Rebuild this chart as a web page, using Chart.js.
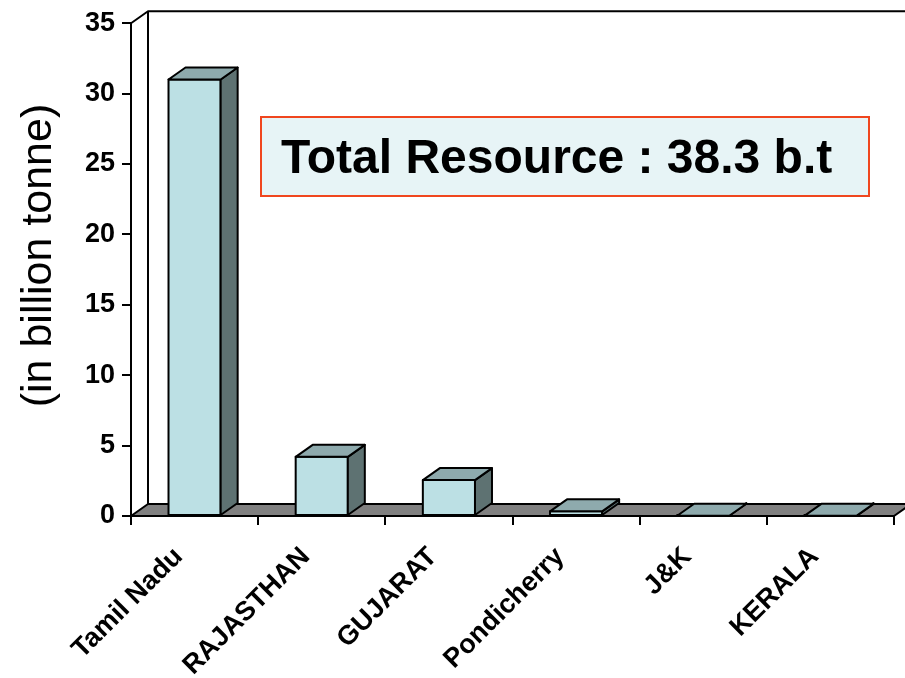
<!DOCTYPE html>
<html>
<head>
<meta charset="utf-8">
<script src="https://cdn.jsdelivr.net/npm/chart.js@4"></script>
<style>
  html, body { margin: 0; padding: 0; background: #fff; }
  #wrap { width: 905px; height: 678px; }
</style>
</head>
<body>
<div id="wrap"><canvas id="resourceChart"></canvas></div>
<script>
const states = ['Tamil Nadu', 'RAJASTHAN', 'GUJARAT', 'Pondicherry', 'J&K', 'KERALA'];
const resources = [31.0, 4.2, 2.55, 0.33, 0.02, 0.01];
const yTicks = [0, 5, 10, 15, 20, 25, 30, 35];
const yTitle = '(in billion tonne)';
const totalLabel = 'Total Resource : 38.3 b.t';

const FONT = '"Liberation Sans", Arial, sans-serif';
const DX = 17, DY = 12;   // depth offset of the pseudo-3D frame

const poly = (ctx, pts, fill) => {
    ctx.beginPath();
    ctx.moveTo(pts[0][0], pts[0][1]);
    for (let i = 1; i < pts.length; i++) ctx.lineTo(pts[i][0], pts[i][1]);
    ctx.closePath();
    if (fill) {
        ctx.fillStyle = fill;
        ctx.fill();
    }
    ctx.stroke();
};

const threeD = {
    id: 'threeD',
    beforeDatasetsDraw(chart) {
        const { ctx, chartArea: a } = chart;
        ctx.save();
        ctx.strokeStyle = '#000';
        ctx.lineWidth = 2;
        ctx.lineJoin = 'round';
        // back wall edges
        ctx.beginPath();
        ctx.moveTo(a.left, a.top);
        ctx.lineTo(a.left + DX, a.top - DY);
        ctx.lineTo(a.right + DX, a.top - DY);
        ctx.moveTo(a.left + DX, a.top - DY);
        ctx.lineTo(a.left + DX, a.bottom - DY);
        ctx.stroke();
        // floor
        poly(ctx, [[a.left, a.bottom], [a.right, a.bottom], [a.right + DX, a.bottom - DY], [a.left + DX, a.bottom - DY]], '#808080');
        ctx.restore();
    },
    afterDatasetsDraw(chart) {
        const { ctx } = chart;
        ctx.save();
        ctx.strokeStyle = '#000';
        ctx.lineWidth = 2;
        ctx.lineJoin = 'round';
        chart.getDatasetMeta(0).data.forEach(bar => {
            const { x, y, base, width } = bar.getProps(['x', 'y', 'base', 'width'], true);
            const l = x - width / 2, r = x + width / 2;
            poly(ctx, [[l, y], [r, y], [r, base], [l, base]], null);
            poly(ctx, [[r, y], [r + DX, y - DY], [r + DX, base - DY], [r, base]], '#5e7272');
            poly(ctx, [[l, y], [r, y], [r + DX, y - DY], [l + DX, y - DY]], '#8eaaad');
        });
        ctx.restore();
    },
    afterDraw(chart) {
        const { ctx } = chart;
        const yScale = chart.scales.y;
        ctx.save();
        // axis title
        ctx.fillStyle = '#000';
        ctx.font = '43px ' + FONT;
        ctx.textAlign = 'center';
        ctx.textBaseline = 'middle';
        ctx.translate(yScale.left + 39, yScale.getPixelForValue(18.5));
        ctx.rotate(-Math.PI / 2);
        ctx.fillText(yTitle, 0, 0);
        ctx.restore();

        // total box
        ctx.save();
        ctx.fillStyle = '#e7f4f6';
        ctx.fillRect(261, 117, 608, 79);
        ctx.strokeStyle = '#f0461e';
        ctx.lineWidth = 2;
        ctx.strokeRect(261, 117, 608, 79);
        ctx.fillStyle = '#000';
        ctx.font = 'bold 48px ' + FONT;
        ctx.textBaseline = 'alphabetic';
        ctx.fillText(totalLabel, 281, 173);
        ctx.restore();
    }
};

new Chart(document.getElementById('resourceChart'), {
    type: 'bar',
    data: {
        labels: states,
        datasets: [{
            data: resources,
            backgroundColor: '#bce0e4',
            borderWidth: 0,
            categoryPercentage: 1,
            barPercentage: 0.41
        }]
    },
    options: {
        responsive: true,
        maintainAspectRatio: false,
        animation: false,
        layout: { padding: { top: 21, right: 11, left: 0, bottom: 0 } },
        plugins: {
            legend: { display: false },
            tooltip: { enabled: false }
        },
        scales: {
            x: {
                afterFit: s => { s.height = 162; },
                grid: { offset: true, drawOnChartArea: false, tickLength: 9, color: '#000', lineWidth: 2 },
                border: { color: '#000', width: 2 },
                ticks: {
                    color: '#000',
                    minRotation: 45,
                    maxRotation: 45,
                    padding: 16,
                    labelOffset: -16,
                    font: { family: FONT, size: 27, weight: 'bold' }
                }
            },
            y: {
                min: 0,
                max: 35,
                afterFit: s => { s.width = 131; },
                afterBuildTicks: s => { s.ticks = yTicks.map(v => ({ value: v })); },
                grid: { drawOnChartArea: false, tickLength: 9, color: '#000', lineWidth: 2 },
                border: { color: '#000', width: 2 },
                ticks: {
                    color: '#000',
                    padding: 7,
                    font: { family: FONT, size: 27, weight: 'bold' }
                }
            }
        }
    },
    plugins: [threeD]
});
</script>
</body>
</html>
